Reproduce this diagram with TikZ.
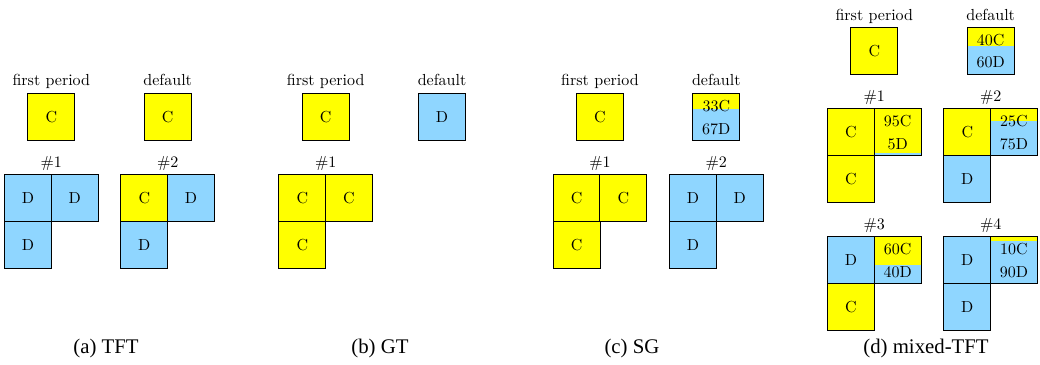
\documentclass[tikz,border=0pt]{standalone}
\usepackage{fontspec}
\newfontfamily\capfont{Liberation Serif}
\usetikzlibrary{calc}
\definecolor{yel}{RGB}{255,255,0}
\definecolor{blu}{RGB}{143,214,255}
\tikzset{
  cell/.style={draw=black, line width=0.6pt, minimum size=29.2pt, inner sep=0pt, font=\fontsize{10}{12}\selectfont},
  ccell/.style={cell, fill=yel},
  dcell/.style={cell, fill=blu},
  split/.style={cell, fill=blu, path picture={\fill[yel] (path picture bounding box.north west) rectangle ($(path picture bounding box.north east)!#1!(path picture bounding box.south east)$);}},
  lbl/.style={inner sep=0pt, anchor=base, font=\fontsize{10}{12}\selectfont},
  pct/.style={inner sep=0pt, font=\fontsize{10}{12}\selectfont},
  captext/.style={inner sep=0pt, anchor=base, font=\capfont\fontsize{13}{15}\selectfont}
}
\begin{document}
\begin{tikzpicture}[x=0.625pt, y=-0.625pt]
\useasboundingbox (0,0) rectangle (1040,365);
% ---------- (a) TFT ----------
\node[lbl] (afpl) at (51.3,86) {first period};
\node[ccell] (afp) at (51.3,116.7) {C};
\node[lbl] (adfl) at (167.7,86) {default};
\node[ccell] (adf) at (167.7,116.7) {C};
\node[lbl] (a1l) at (51.3,168) {\#1};
\node[dcell] (a1a) at (28,198.3) {D};
\node[dcell] (a1b) at (74.7,198.3) {D};
\node[dcell] (a1c) at (28,245) {D};
\node[lbl] (a2l) at (167.7,168) {\#2};
\node[ccell] (a2a) at (144.3,198.3) {C};
\node[dcell] (a2b) at (191,198.3) {D};
\node[dcell] (a2c) at (144.3,245) {D};
\node[captext] (acap) at (106,353) {(a) TFT};
% ---------- (b) GT ----------
\node[lbl] (bfpl) at (325.7,86) {first period};
\node[ccell] (bfp) at (325.7,116.7) {C};
\node[lbl] (bdfl) at (442,86) {default};
\node[dcell] (bdf) at (442,116.7) {D};
\node[lbl] (b1l) at (325.7,168) {\#1};
\node[ccell] (b1a) at (302.3,198.3) {C};
\node[ccell] (b1b) at (349,198.3) {C};
\node[ccell] (b1c) at (302.3,245) {C};
\node[captext] (bcap) at (380,353) {(b) GT};
% ---------- (c) SG ----------
\node[lbl] (cfpl) at (600,86) {first period};
\node[ccell] (cfp) at (600,116.7) {C};
\node[lbl] (cdfl) at (716.3,86) {default};
\node[split=0.33] (cdf) at (716.3,116.7) {};
\node[pct] (cdfc) at ($(cdf.center)+(0,-11)$) {33C};
\node[pct] (cdfd) at ($(cdf.center)+(0,13)$) {67D};
\node[lbl] (c1l) at (600,168) {\#1};
\node[ccell] (c1a) at (576.7,198.3) {C};
\node[ccell] (c1b) at (623.3,198.3) {C};
\node[ccell] (c1c) at (576.7,245) {C};
\node[lbl] (c2l) at (716.3,168) {\#2};
\node[dcell] (c2a) at (693,198.3) {D};
\node[dcell] (c2b) at (739.7,198.3) {D};
\node[dcell] (c2c) at (693,245) {D};
\node[captext] (ccap) at (632,353) {(c) SG};
% ---------- (d) mixed-TFT ----------
\node[lbl] (dfpl) at (874.3,20.5) {first period};
\node[ccell] (dfp) at (874.3,50.7) {C};
\node[lbl] (ddfl) at (990.7,20.5) {default};
\node[split=0.4] (ddf) at (990.7,50.7) {};
\node[pct] (ddfc) at ($(ddf.center)+(0,-11)$) {40C};
\node[pct] (ddfd) at ($(ddf.center)+(0,12)$) {60D};
% #1
\node[lbl] (d1l) at (874.3,102) {\#1};
\node[ccell] (d1a) at (851,132.3) {C};
\node[split=0.95] (d1b) at (897.7,132.3) {};
\node[pct] (d1bc) at ($(d1b.center)+(0,-11)$) {95C};
\node[pct] (d1bd) at ($(d1b.center)+(0,12)$) {5D};
\node[ccell] (d1c) at (851,179) {C};
% #2
\node[lbl] (d2l) at (990.7,102) {\#2};
\node[ccell] (d2a) at (967.3,132.3) {C};
\node[split=0.25] (d2b) at (1014,132.3) {};
\node[pct] (d2bc) at ($(d2b.center)+(0,-11)$) {25C};
\node[pct] (d2bd) at ($(d2b.center)+(0,12)$) {75D};
\node[dcell] (d2c) at (967.3,179) {D};
% #3
\node[lbl] (d3l) at (874.3,229.7) {\#3};
\node[dcell] (d3a) at (851,260) {D};
\node[split=0.6] (d3b) at (897.7,260) {};
\node[pct] (d3bc) at ($(d3b.center)+(0,-11)$) {60C};
\node[pct] (d3bd) at ($(d3b.center)+(0,12)$) {40D};
\node[ccell] (d3c) at (851,306.7) {C};
% #4
\node[lbl] (d4l) at (990.7,229.7) {\#4};
\node[dcell] (d4a) at (967.3,260) {D};
\node[split=0.1] (d4b) at (1014,260) {};
\node[pct] (d4bc) at ($(d4b.center)+(0,-11)$) {10C};
\node[pct] (d4bd) at ($(d4b.center)+(0,12)$) {90D};
\node[dcell] (d4c) at (967.3,306.7) {D};
\node[captext] (dcap) at (926,353) {(d) mixed-TFT};
\end{tikzpicture}
\end{document}
